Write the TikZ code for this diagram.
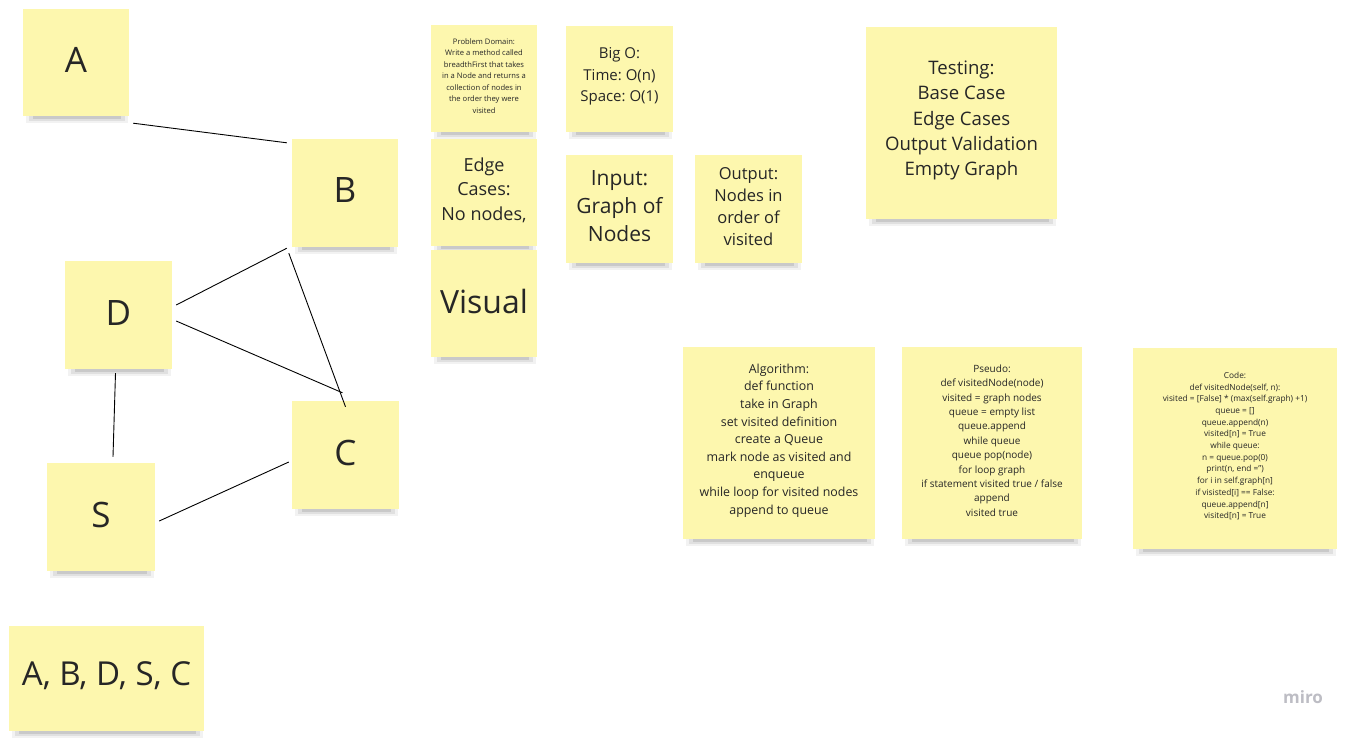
\documentclass[tikz,border=0pt]{standalone}
\usepackage{fontspec}
\setmainfont{Open Sans}
\usetikzlibrary{calc}
\definecolor{notey}{HTML}{FDF7AE}
\definecolor{miroG}{HTML}{BDBDC4}
\tikzset{
  note/.style={fill=notey, draw=none, inner sep=0pt},
  notetext/.style={align=center, text=black!85, inner sep=0pt},
  edge/.style={draw=black, line width=0.9pt},
}
% \sticky{name}{x1}{y1}{x2}{y2}{size}{baseline}{text}
\newcommand\sticky[8]{%
  \fill[black, opacity=0.05] (#2+3,#5-10) rectangle (#4-1,#5+7);
  \fill[black, opacity=0.07] (#2+6,#5-10) rectangle (#4-4,#5+5);
  \fill[black, opacity=0.10] (#2+10,#5-10) rectangle (#4-8,#5+3);
  \node[note, minimum width=#4-#2, minimum height=#5-#3] (#1) at ({(#2+#4)/2},{(#3+#5)/2}) {};
  \node[notetext, font=\fontsize{#6}{#7}\selectfont] (#1-t) at ($(#1.center)+(0,-2.5)$) {#8};
}
\begin{document}
\frenchspacing
\begin{tikzpicture}[x=1pt,y=-1pt]
\useasboundingbox (0,0) rectangle (1356,737);
\fill[white] (0,0) rectangle (1356,737);
% graph notes
\sticky{A}{23}{9}{129}{116}{35}{40}{A}
\sticky{B}{292}{139}{398}{247}{35}{40}{B}
\sticky{D}{65}{261}{172}{369}{35}{40}{D}
\sticky{C}{292}{401}{399}{509}{35}{40}{C}
\sticky{S}{47}{463}{155}{571}{35}{40}{S}
\sticky{order}{9}{626}{204}{731}{33}{38}{A, B, D, S, C}
% info notes
\sticky{problem}{431}{25}{537}{132}{7.6}{11.5}{Problem Domain:\\Write a method called\\breadthFirst that takes\\in a Node and returns a\\collection of nodes in\\the order they were\\visited}
\sticky{bigo}{566}{26}{673}{132}{15}{21.5}{Big O:\\Time: O(n)\\Space: O(1)}
\sticky{edgecases}{431}{139}{537}{246}{18}{24.5}{Edge\\Cases:\\No nodes,}
\sticky{input}{566}{155}{673}{263}{21}{28}{Input:\\Graph of\\Nodes}
\sticky{output}{695}{155}{802}{263}{16.5}{22}{Output:\\Nodes in\\order of\\visited}
\sticky{visual}{431}{250}{537}{357}{32}{36}{Visual}
\sticky{testing}{866}{27}{1057}{219}{18.6}{25.3}{Testing:\\Base Case\\Edge Cases\\Output Validation\\Empty Graph}
\sticky{algorithm}{683}{347}{875}{539}{12.4}{17.6}{Algorithm:\\def function\\take in Graph\\set visited definition\\create a Queue\\mark node as visited and\\enqueue\\while loop for visited nodes\\append to queue}
\sticky{pseudo}{902}{347}{1082}{539}{10}{14.4}{Pseudo:\\def visitedNode(node)\\visited = graph nodes\\queue = empty list\\queue.append\\while queue\\queue pop(node)\\for loop graph\\if statement visited true / false\\append\\visited true}
\sticky{code}{1133}{348}{1337}{549}{8.3}{11.7}{Code:\\def visitedNode(self, n):\\visited = [False] * (max(self.graph) +1)\\queue = []\\queue.append(n)\\visited[n] = True\\while queue:\\n = queue.pop(0)\\print(n, end ='')\\for i in self.graph[n]\\if visisted[i] == False:\\queue.append[n]\\visited[n] = True}
% edges
\draw[edge] ($(A.south east)+(4,7)$) -- ($(B.north west)+(-5,4)$);
\draw[edge] ($(D.east)+(4,-10)$) -- ($(B.south west)+(-5,1)$);
\draw[edge] ($(B.south west)+(-3,6)$) -- ($(C.north)+(0,6)$);
\draw[edge] ($(D.east)+(4,6)$) -- ($(C.north)+(-3,-8)$);
\draw[edge] ($(D.south)+(-3,4)$) -- ($(S.north)+(12,-6)$);
\draw[edge] ($(S.east)+(4,4)$) -- ($(C.west)+(-3,7)$);
% watermark
\node[text=miroG, font=\fontsize{17}{20}\selectfont\bfseries] (miro) at (1303,697) {miro};
\end{tikzpicture}
\end{document}
